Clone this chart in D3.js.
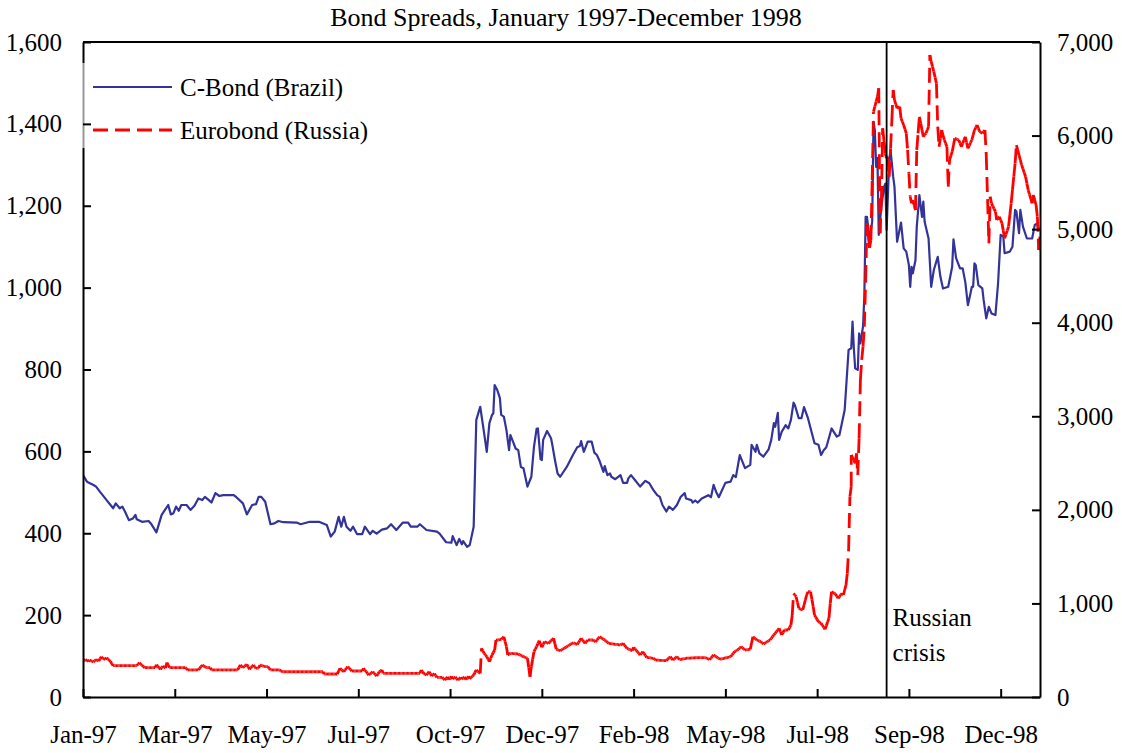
<!DOCTYPE html>
<html>
<head>
<meta charset="utf-8">
<script src="https://cdn.jsdelivr.net/npm/d3@7"></script>
<style>
  html, body { margin: 0; padding: 0; background: #fff; }
  svg { display: block; }
  svg text { font-family: "Liberation Serif", "Times New Roman", serif !important; fill: #000; }
</style>
</head>
<body>
<svg id="chart" width="1122" height="753"></svg>
<script>
// ---------------- DATA ----------------
// Days counted from 1 January 1997
const brazilDay = [0,3,8,10,13,15,18,21,23,25,28,30,32,35,38,40,41,45,50,52,56,60,65,67,69,71,73,75,79,82,85,88,91,93,96,98,101,104,107,115,117,122,125,129,132,134,136,139,143,146,149,153,163,166,173,180,186,189,192,195,197,199,201,204,206,209,213,215,219,221,224,228,232,235,239,244,248,250,255,257,262,270,272,277,281,282,285,287,289,290,293,295,298,300,303,306,308,310,312,313,314,316,318,319,321,323,325,326,328,330,332,334,336,339,342,344,346,347,349,350,351,354,357,358,360,362,364,369,374,377,379,380,382,385,388,390,392,394,397,398,400,402,403,406,410,412,415,416,418,421,425,429,432,435,438,440,442,445,447,450,453,456,459,460,464,465,467,469,472,477,479,481,483,485,490,494,496,498,501,502,505,509,510,513,514,516,519,523,525,527,528,530,531,533,536,538,540,542,543,546,548,550,553,558,561,563,565,567,571,575,577,581,584,586,587,588,589,591,592,593,595,596,597,598,600,602,603,604,605,606,607,609,611,612,613,615,616,618,619,621,624,626,628,630,631,632,633,635,636,638,640,641,642,645,647,649,652,654,656,660,663,664,666,669,671,673,675,677,678,679,680,681,683,686,687,689,691,693,696,698,700,702,703,707,709,711,712,714,715,717,720,724,726,728,729];
const brazilBps = [542,526,518,514,501,493,481,469,461,473,461,465,453,432,436,445,434,428,430,423,402,445,469,446,449,465,455,469,469,457,467,485,481,489,481,475,498,491,493,493,488,473,446,469,471,489,489,477,422,424,430,427,426,422,428,428,420,392,404,440,416,440,416,406,416,398,398,416,398,406,399,409,412,422,408,426,426,416,416,422,408,404,399,378,377,393,371,386,373,381,367,371,416,677,709,644,599,669,689,693,762,750,730,689,685,652,603,640,624,607,603,562,559,514,538,611,655,656,581,579,628,650,632,616,579,546,538,562,593,610,613,625,599,624,624,597,591,577,550,564,542,546,538,532,542,523,523,534,542,530,514,528,522,506,493,489,469,453,465,457,469,489,498,485,481,475,480,475,485,493,488,518,501,488,523,526,542,537,591,583,559,567,616,599,616,595,587,605,628,669,660,694,628,648,664,656,677,719,713,681,681,708,681,620,616,591,603,610,656,636,640,701,848,852,917,852,803,799,888,864,905,978,1173,1173,1116,1161,1405,1385,1295,1317,1129,1198,1246,1254,1141,1312,1336,1271,1246,1112,1159,1096,1088,1055,1002,1051,1035,1067,1149,1226,1173,1210,1161,1120,1002,1043,1075,1027,998,1002,1051,1118,1072,1047,1047,1014,957,986,1002,1002,1059,1055,1006,998,970,925,953,937,933,1010,1129,1125,1084,1088,1100,1190,1186,1133,1190,1149,1120,1120,1153,1157,1141];

const russiaDay = [0,2,4,5,8,10,12,14,15,17,18,21,23,41,43,45,47,55,56,59,61,63,64,66,78,80,88,91,94,97,98,118,120,122,125,127,130,132,134,135,139,141,143,150,152,183,184,194,196,199,201,202,205,213,214,216,218,221,224,226,228,229,257,258,260,262,264,266,268,270,274,276,278,279,281,282,284,286,288,289,291,292,294,295,298,300,303,304,306,308,310,312,314,315,317,319,321,323,324,326,332,336,339,341,342,344,346,348,350,352,355,359,361,364,374,377,380,383,385,389,391,394,398,401,410,412,415,419,420,425,427,430,435,437,445,448,450,453,455,460,468,475,478,481,486,494,497,500,502,505,509,511,514,517,519,524,527,529,531,533,535,538,540,541,542,544,546,549,552,553,555,557,558,561,563,566,569,570,571,574,576,579,580,582,583,584,585,586,586,588,589,590,591,592,593,594,595,596,597,598,600,601,602,603,604,606,607,608,609,610,612,613,614,615,616,617,618,619,621,623,624,626,628,629,631,632,633,635,636,638,640,641,643,645,646,647,649,651,652,653,655,657,659,660,661,663,665,668,670,673,675,678,680,682,684,686,688,689,691,692,693,696,697,699,701,703,706,708,711,712,714,716,719,721,724,725,727,728,729,730];
const russiaBps = [385,400,380,395,375,400,385,431,410,403,420,378,335,335,367,340,314,314,345,296,330,310,367,314,314,289,289,342,314,314,289,289,342,314,349,296,342,305,310,342,324,324,289,289,270,270,246,246,307,270,310,324,278,278,307,270,235,270,224,270,289,253,253,289,250,235,270,225,250,210,210,182,215,185,220,192,215,180,210,190,215,185,220,195,235,289,253,520,467,431,378,449,502,609,609,616,644,538,449,467,460,431,414,217,324,484,538,602,531,591,573,627,510,495,580,560,627,573,609,609,590,644,609,573,556,573,520,495,531,449,484,424,414,395,388,431,395,431,400,414,420,420,400,449,403,431,484,510,538,502,510,644,609,591,566,609,663,698,734,663,716,716,769,876,1108,1072,948,930,1090,1125,1125,965,876,805,787,723,841,1001,1125,1100,1055,1108,1090,1197,1322,1571,2141,2248,2586,2533,2497,2604,2373,2765,3388,3602,3744,3958,4456,5062,4800,4884,5525,6255,6309,6416,6505,4956,5300,6078,5810,5757,5774,5560,5863,6166,6487,6380,6291,6309,6184,6113,6024,5846,5347,5276,5311,5204,5846,6202,6059,5988,6024,6095,6861,6790,6683,6558,6095,5881,6059,5953,5881,5454,5739,5828,5970,5953,5881,5988,5863,5953,6059,6113,6042,6024,6059,5792,4849,5347,5276,5187,5098,5133,5062,4902,5026,5276,5704,5899,5792,5686,5560,5418,5276,5365,5258,5133,4777,4919];

const leftTicks  = [0, 200, 400, 600, 800, 1000, 1200, 1400, 1600];
const rightTicks = [0, 1000, 2000, 3000, 4000, 5000, 6000, 7000];
const tickDates  = ["1997-01-01","1997-03-12","1997-05-21","1997-07-30","1997-10-08","1997-12-17",
                    "1998-02-25","1998-05-06","1998-07-15","1998-09-23","1998-12-02"];
const tickLabels = ["Jan-97","Mar-97","May-97","Jul-97","Oct-97","Dec-97",
                    "Feb-98","May-98","Jul-98","Sep-98","Dec-98"];
const seriesNames = ["C-Bond (Brazil)", "Eurobond (Russia)"];
const crisisDate  = "1998-09-06";
const titleText   = "Bond Spreads, January 1997-December 1998";

// ---------------- CHART ----------------
const FONT = '"Liberation Serif", "Times New Roman", serif';
const svg = d3.select("#chart");
const M = {left: 83, right: 1040, top: 42, bottom: 697};
const parse = d3.timeParse("%Y-%m-%d");
const start = parse("1997-01-01");
const toDate = d => d3.timeDay.offset(start, d);

const x = d3.scaleTime().domain([start, parse("1999-01-01")]).range([M.left, M.right]);
const yL = d3.scaleLinear().domain([0, 1600]).range([M.bottom, M.top]);
const yR = d3.scaleLinear().domain([0, 7000]).range([M.bottom, M.top]);
const fmt = d3.format(",");

const BLUE = "#333399", RED = "#ff0000";

// title
svg.append("text").attr("x", 566).attr("y", 26).attr("text-anchor", "middle")
  .style("font-family", FONT).style("font-size", "26px").text(titleText);

// clip
svg.append("clipPath").attr("id", "clip").append("rect")
  .attr("x", M.left).attr("y", M.top - 2).attr("width", M.right - M.left).attr("height", M.bottom - M.top + 2);

const plot = svg.append("g").attr("clip-path", "url(#clip)");

// Brazil line
const brazil = brazilDay.map((d, i) => ({date: toDate(d), v: brazilBps[i]}));
plot.append("path").datum(brazil)
  .attr("fill", "none").attr("stroke", BLUE).attr("stroke-width", 2.2).attr("stroke-linejoin", "round")
  .attr("d", d3.line().x(d => x(d.date)).y(d => yL(d.v)));

// Russia line: dash pattern restarts at every daily step (as in the source rendering)
const russia = russiaDay.map((d, i) => ({date: toDate(d), v: russiaBps[i]}));
const segs = [];
for (let i = 0; i < russia.length - 1; i++) {
  const a = [x(russia[i].date), yR(russia[i].v)];
  const b = [x(russia[i + 1].date), yR(russia[i + 1].v)];
  const n = Math.max(1, Math.round((b[0] - a[0]) / 1.31));
  for (let k = 0; k < n; k++) {
    const t0 = k / n, t1 = (k + 1) / n;
    segs.push([a[0] + (b[0] - a[0]) * t0, a[1] + (b[1] - a[1]) * t0,
               a[0] + (b[0] - a[0]) * t1, a[1] + (b[1] - a[1]) * t1]);
  }
}
plot.append("g").selectAll("line").data(segs).join("line")
  .attr("x1", s => s[0]).attr("y1", s => s[1]).attr("x2", s => s[2]).attr("y2", s => s[3])
  .attr("stroke", RED).attr("stroke-width", 2.8).attr("stroke-dasharray", "15,7");

// crisis line
const cx = x(parse(crisisDate));
svg.append("line").attr("x1", cx).attr("x2", cx)
  .attr("y1", M.top).attr("y2", M.bottom).attr("stroke", "#000").attr("stroke-width", 1.8);
svg.append("text").attr("x", cx + 6).attr("y", 626).style("font-family", FONT).style("font-size", "25px").text("Russian");
svg.append("text").attr("x", cx + 6).attr("y", 661).style("font-family", FONT).style("font-size", "25px").text("crisis");

// frame top
svg.append("line").attr("x1", M.left).attr("x2", M.right).attr("y1", M.top).attr("y2", M.top)
  .attr("stroke", "#000").attr("stroke-width", 2);

// axes
function styleAxis(g) {
  g.attr("font-family", null).attr("font-size", null);
  g.select(".domain").attr("stroke", "#000").attr("stroke-width", 2);
  g.selectAll(".tick line").attr("stroke", "#000").attr("stroke-width", 2);
  g.selectAll(".tick text").style("font-family", FONT).style("font-size", "25px");
}
const gL = svg.append("g").attr("transform", `translate(${M.left},0)`)
  .call(d3.axisLeft(yL).tickValues(leftTicks).tickFormat(fmt).tickSize(-8).tickSizeOuter(0).tickPadding(21));
styleAxis(gL);
// semi-opaque legend box partly covering the axis
gL.insert("rect", ".tick").attr("x", -3).attr("y", 63).attr("width", 300).attr("height", 85)
  .attr("fill", "#fff").attr("opacity", 0.6);

const gR = svg.append("g").attr("transform", `translate(${M.right},0)`)
  .call(d3.axisRight(yR).tickValues(rightTicks).tickFormat(fmt).tickSize(-8).tickSizeOuter(0).tickPadding(17));
styleAxis(gR);

const gX = svg.append("g").attr("transform", `translate(0,${M.bottom})`)
  .call(d3.axisBottom(x).tickValues(tickDates.map(parse))
    .tickFormat((d, i) => tickLabels[i]).tickSize(-8).tickSizeOuter(0).tickPadding(26));
styleAxis(gX);
gX.selectAll(".tick text").attr("dy", null).attr("y", 46);

// legend
const leg = svg.append("g");
leg.append("line").attr("x1", 93).attr("x2", 172).attr("y1", 87).attr("y2", 87)
  .attr("stroke", BLUE).attr("stroke-width", 2.2);
leg.append("line").attr("x1", 93).attr("x2", 172).attr("y1", 130).attr("y2", 130)
  .attr("stroke", RED).attr("stroke-width", 2.8).attr("stroke-dasharray", "15,7");
leg.append("text").attr("x", 180).attr("y", 87).attr("dy", "0.35em").style("font-family", FONT).style("font-size", "25px").text(seriesNames[0]);
leg.append("text").attr("x", 180).attr("y", 130).attr("dy", "0.35em").style("font-family", FONT).style("font-size", "25px").text(seriesNames[1]);
</script>
</body>
</html>
